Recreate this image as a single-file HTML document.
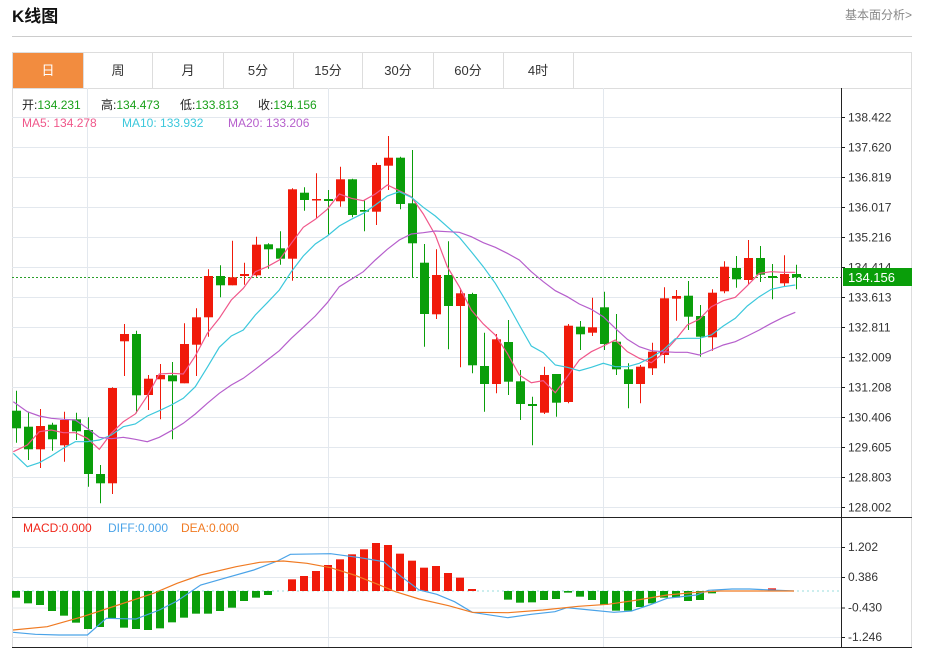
<!DOCTYPE html>
<html><head><meta charset="utf-8">
<style>
body{margin:0;background:#fff;width:925px;height:652px;overflow:hidden;font-family:"Liberation Sans","Noto Sans CJK SC",sans-serif;}
svg{position:absolute;left:0;top:0}
</style></head><body>
<svg id="s" width="925" height="652" xmlns="http://www.w3.org/2000/svg" font-family="Liberation Sans, Noto Sans CJK SC, sans-serif">
<text x="12" y="22" font-size="17" font-weight="bold" fill="#111">K线图</text>
<text x="845" y="19" font-size="12" fill="#888">基本面分析&gt;</text>
<line x1="12" y1="36.5" x2="912" y2="36.5" stroke="#ccc"/>
<rect x="12.5" y="52.5" width="899" height="595" fill="none" stroke="#ddd"/>
<rect x="13" y="53" width="70" height="35" fill="#f28c3f"/>
<line x1="12" y1="88.5" x2="912" y2="88.5" stroke="#ddd"/>
<g stroke="#ddd"><line x1="83.5" y1="52" x2="83.5" y2="88"/><line x1="152.5" y1="52" x2="152.5" y2="88"/><line x1="223.5" y1="52" x2="223.5" y2="88"/><line x1="293.5" y1="52" x2="293.5" y2="88"/><line x1="362.5" y1="52" x2="362.5" y2="88"/><line x1="433.5" y1="52" x2="433.5" y2="88"/><line x1="503.5" y1="52" x2="503.5" y2="88"/><line x1="573.5" y1="52" x2="573.5" y2="88"/></g>
<g font-size="13" fill="#333" text-anchor="middle">
<text x="48" y="75" fill="#fff">日</text><text x="118" y="75">周</text><text x="188" y="75">月</text><text x="258" y="75">5分</text><text x="328" y="75">15分</text><text x="398" y="75">30分</text><text x="468" y="75">60分</text><text x="538" y="75">4时</text>
</g>
<g id="grid" stroke="#e3e8ee" stroke-width="1"></g>
<g id="plot"></g>
<line x1="841.5" y1="88" x2="841.5" y2="648" stroke="#222"/>
<line x1="12" y1="517.5" x2="912" y2="517.5" stroke="#222"/>
<line x1="12" y1="647.5" x2="912" y2="647.5" stroke="#222"/>
<g font-size="12" fill="#333" id="ticks"></g>
<rect x="843" y="268" width="69" height="18" fill="#0a9e0a"/>
<text x="848" y="282" font-size="13" fill="#fff">134.156</text>
<g font-size="12">
<text x="22" y="109" fill="#222">开:<tspan fill="#1aa01a">134.231</tspan></text>
<text x="101" y="109" fill="#222">高:<tspan fill="#1aa01a">134.473</tspan></text>
<text x="180" y="109" fill="#222">低:<tspan fill="#1aa01a">133.813</tspan></text>
<text x="258" y="109" fill="#222">收:<tspan fill="#1aa01a">134.156</tspan></text>
<text x="22" y="127" fill="#f0578a">MA5: 134.278</text>
<text x="122" y="127" fill="#3cc8dc">MA10: 133.932</text>
<text x="228" y="127" fill="#b65fcc">MA20: 133.206</text>
<text x="23" y="532" fill="#f0261a">MACD:0.000</text>
<text x="108" y="532" fill="#4aa3e8">DIFF:0.000</text>
<text x="181" y="532" fill="#f07a22">DEA:0.000</text>
</g>
</svg>
<script>
var NS="http://www.w3.org/2000/svg";
function el(p,t,a){var e=document.createElementNS(NS,t);for(var k in a)e.setAttribute(k,a[k]);p.appendChild(e);return e;}
var g=document.getElementById('grid'),P=document.getElementById('plot'),T=document.getElementById('ticks');
var pl=['138.422','137.620','136.819','136.017','135.216','134.414','133.613','132.811','132.009','131.208','130.406','129.605','128.803','128.002'];
for(var i=0;i<14;i++){var y=117+30*i+.5;el(g,'line',{x1:12,y1:y,x2:841,y2:y});el(T,'line',{x1:841,y1:y,x2:845,y2:y,stroke:'#222'});el(T,'text',{x:848,y:y+4}).textContent=pl[i];}
var ml=['1.202','0.386','-0.430','-1.246'],my=[547,577,607.5,637];
for(i=0;i<4;i++){el(g,'line',{x1:12,y1:my[i]+.5,x2:841,y2:my[i]+.5});el(T,'line',{x1:841,y1:my[i]+.5,x2:845,y2:my[i]+.5,stroke:'#222'});el(T,'text',{x:848,y:my[i]+4}).textContent=ml[i];}
[87.5,328.5,603.5].forEach(function(x){el(g,'line',{x1:x,y1:88,x2:x,y2:648});});
var C=[[410.7,428.3,390.7,442.7,0],[426.7,449.3,411.7,460,0],[426,449.3,409,468,1],[424.7,439.3,422.7,450.7,0],[420,445.3,411.7,461.7,1],[419.3,431.3,412.7,440,0],[430,474,417.3,486.7,0],[474,483.3,465,503.3,0],[388,483.3,387.3,494,1],[334,341.3,324,376,1],[334,395.3,330.7,413.3,0],[378.7,395,375,410,1],[375,379.3,364,419.3,1],[375.3,381.3,362,439.3,0],[344,383.3,323.3,383.3,1],[317.3,344.7,308.3,376,1],[276,317.3,269.3,336.7,1],[276,285.3,265.3,297.3,0],[277.3,285.3,240.7,285.3,1],[274,276,262.7,284.7,1],[244.7,275.3,236.7,276.7,1],[244.3,249.3,243.3,268.7,0],[248.3,258.7,231.3,264.7,0],[189.3,258.7,188.3,280.7,1],[192.7,200,187.3,210.7,0],[199,200.5,173.3,218,1],[199,201,190,235,0],[179.3,201.3,166.7,206.7,1],[179.3,215,178.7,217.3,0],[210,211.7,200,231.3,0],[165,211.7,162.7,225,1],[157.7,165.7,136,190,1],[157.7,204,156.7,209.3,0],[203.3,243.3,150,277.3,0],[262.7,314,244,346.7,0],[275,314.3,249.3,319,1],[275,306,241.3,349.3,0],[293.3,306,288.3,367.3,1],[294,365.3,292.7,373.3,0],[366,384,332.7,411.7,0],[339.3,384,334,393.3,1],[342,381.7,320,395,0],[381.3,404,370,420,0],[404,406,396.7,445.3,0],[375,412.7,366.7,414,1],[374,402.7,374,416.7,0],[325.7,402,324,403.3,1],[326.7,334.3,321,350,0],[327.3,332.7,297.7,336,1],[307.3,344,291.7,350,0],[341.7,369.3,314,375,0],[369.3,384,363.3,408.3,0],[366.7,384,365,403.3,1],[351.7,368.3,342.7,375,1],[298.3,355,287.3,363.3,1],[296,298.7,290,320.7,1],[295.7,316.7,281,330,0],[316,336.7,305,356.7,0],[292.7,337.3,289.3,350.7,1],[266.7,291.3,261.3,293.3,1],[268,279.3,256,287.7,0],[258,280,240,284,1],[258,274.7,246,282,0],[276,278,264,299.3,0],[274,283.3,255.3,286.7,1],[274,277.3,264.7,289.3,0]];
var R='#f01a0a',G='#0a9e0a';
el(P,'line',{x1:12,y1:277.5,x2:841,y2:277.5,stroke:'#2a9e2a','stroke-dasharray':'2,2'});
C.forEach(function(c,i){var x=16+12*i,col=c[4]?R:G;el(P,'line',{x1:x+.5,y1:c[2],x2:x+.5,y2:c[3],stroke:col});el(P,'rect',{x:x-4,y:c[0],width:9,height:Math.max(1.5,c[1]-c[0]),fill:col});});
function line(pts,sx,ox,sy,oy,col){var d=pts.map(function(p,i){return (i?'L':'M')+(ox+p[0]/sx).toFixed(1)+' '+(oy+p[1]/sy).toFixed(1);}).join('');el(P,'path',{d:d,fill:'none',stroke:col,'stroke-width':1.2});}
function two(a,b,col){line(a.concat(b.map(function(p){return[p[0]+1320,p[1]];})),3,0,3,120,col);}
two([[40,995],[82,975],[118,935],[154,930],[190,938],[226,938],[262,955],[298,988],[334,940],[370,905],[406,882],[442,828],[478,762],[514,760],[550,762],[586,708],[622,640],[658,595],[694,540],[730,505],[766,455],[802,440],[838,420],[874,370],[910,322],[946,298],[982,268],[1018,222],[1054,235],[1090,242],[1126,222],[1162,195],[1198,212],[1234,230],[1270,282],[1306,345]],
[[22,440],[58,500],[94,570],[130,612],[166,645],[202,700],[238,765],[274,788],[310,782],[346,818],[382,770],[418,720],[454,695],[490,678],[526,660],[562,695],[598,715],[634,728],[670,700],[706,660],[742,615],[778,598],[814,560],[850,542],[886,532],[922,497],[958,460],[994,455],[1030,457],[1066,457]],'#f0578a');
two([[40,1000],[82,1040],[118,1028],[154,1008],[190,985],[226,965],[262,965],[298,960],[334,945],[370,920],[406,912],[442,888],[478,872],[514,855],[550,835],[586,800],[622,742],[658,682],[694,648],[730,630],[766,585],[802,548],[838,510],[874,455],[910,408],[946,372],[982,348],[1018,318],[1054,298],[1090,280],[1126,255],[1162,228],[1198,215],[1234,232],[1270,262],[1306,288]],
[[22,320],[58,352],[94,395],[130,440],[166,490],[202,550],[238,615],[274,678],[310,698],[346,735],[382,742],[418,752],[454,742],[490,730],[526,740],[562,740],[598,730],[634,712],[670,690],[706,656],[742,655],[778,655],[814,645],[850,618],[886,595],[922,558],[958,530],[994,508],[1030,500],[1066,495]],'#3cc8dc');
two([[40,845],[82,875],[118,888],[154,895],[190,898],[226,900],[262,925],[298,952],[334,956],[370,952],[406,958],[442,965],[478,952],[514,932],[550,910],[586,882],[622,850],[658,820],[694,795],[730,775],[766,748],[802,720],[838,692],[874,655],[910,622],[946,588],[982,548],[1018,500],[1054,478],[1090,455],[1126,420],[1162,388],[1198,360],[1234,342],[1270,338],[1306,333]],
[[22,335],[58,337],[94,350],[130,368],[166,382],[202,400],[238,420],[274,455],[310,485],[346,512],[382,530],[418,552],[454,568],[490,590],[526,625],[562,658],[598,680],[634,692],[670,695],[706,697],[742,697],[778,705],[814,690],[850,675],[886,665],[922,648],[958,630],[994,610],[1030,592],[1066,577]],'#b65fcc');
el(P,'line',{x1:12,y1:591,x2:841,y2:591,stroke:'#9dd','stroke-dasharray':'2,3'});
var M=[248,265,270,288,302,323,342,336,310,338,342,345,340,322,308,296,296,288,278,258,248,240,229,193,183,168,150,133,118,103,84,90,116,137,158,153,174,188,222,229,229,254,263,262,255,252,233,245,255,270,287,287,276,265,248,248,258,255,235,230,226,226,226,220,226,228];
M.forEach(function(v,i){var x=16+12*i,y=515+v/3,z=591;if(Math.abs(y-z)<0.8)return;el(P,'rect',{x:x-4,y:Math.min(y,z),width:8,height:Math.abs(y-z),fill:y<z?R:G});});
line([[22,352],[60,358],[100,360],[148,360],[180,310],[230,312],[270,285],[300,258],[340,210],[380,190],[430,165],[470,138],[492,118],[560,116],[610,128],[650,140],[680,185],[710,225],[740,238],[770,260],[800,292],[860,308],[900,298],[940,290],[960,278],[1000,285],[1040,292],[1070,288],[1100,270],[1130,250],[1180,240],[1200,226],[1240,222],[1270,222],[1345,228]],1.694,0,3,515,'#4aa3e8');
line([[22,345],[80,335],[140,305],[200,270],[260,235],[300,205],[340,180],[400,155],[440,142],[480,138],[520,145],[560,158],[600,180],[640,208],[670,230],[710,252],[760,272],[800,292],[860,293],[920,285],[980,274],[1030,268],[1080,255],[1130,240],[1180,232],[1220,228],[1345,228]],1.694,0,3,515,'#f07a22');
</script>
</body></html>
